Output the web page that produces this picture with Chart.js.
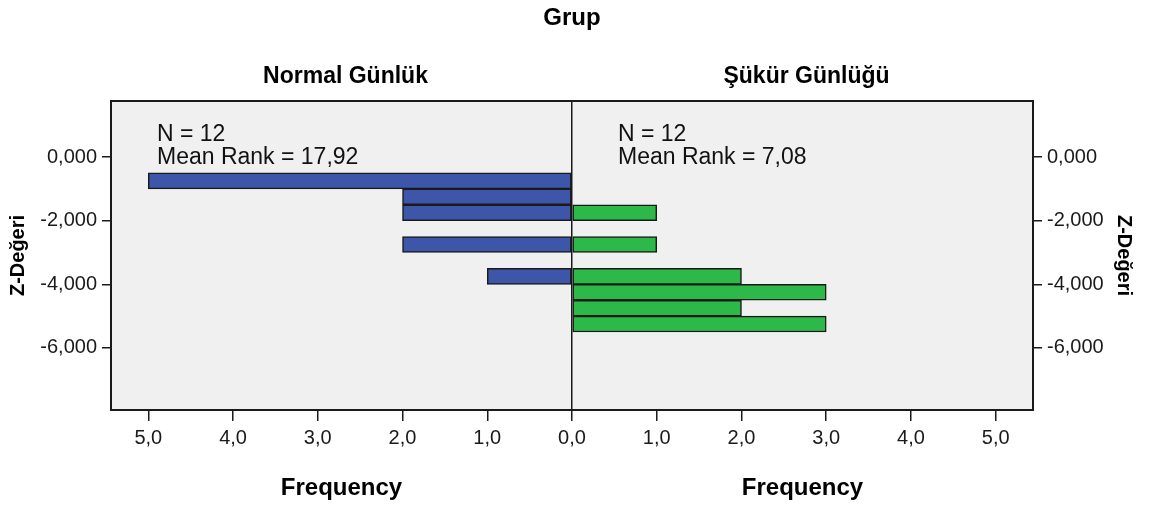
<!DOCTYPE html>
<html>
<head>
<meta charset="utf-8">
<script src="https://cdn.jsdelivr.net/npm/chart.js@4/dist/chart.umd.min.js"></script>
<style>
html,body{margin:0;padding:0;background:#fff;}
#wrap{width:1152px;height:506px;position:relative;}
</style>
</head>
<body>
<div id="wrap"><canvas id="c" width="1152" height="506"></canvas></div>
<script>
// ---- data ----
const binCenters   = [-0.75, -1.25, -1.75, -2.25, -2.75, -3.25, -3.75, -4.25, -4.75, -5.25];
const normalCounts = [5, 2, 2, 0, 2, 0, 1, 0, 0, 0];
const sukurCounts  = [0, 0, 1, 0, 1, 0, 2, 3, 2, 3];
const freqTicks    = [-5, -4, -3, -2, -1, 0, 1, 2, 3, 4, 5];
const zTicks       = [0, -2, -4, -6];
const groupNames   = ['Normal Günlük', 'Şükür Günlüğü'];
const groupStats   = [['N = 12', 'Mean Rank = 17,92'], ['N = 12', 'Mean Rank = 7,08']];
const chartTitle   = 'Grup';
const xTitle       = 'Frequency';
const yTitle       = 'Z-Değeri';

const FONT = '"Liberation Sans", Arial, sans-serif';
const INK = '#1a1a1a';

function toPoints(counts, sign) {
  return binCenters.map((y, i) => ({ x: sign * counts[i], y: y })).filter(p => p.x !== 0);
}

const framePlugin = {
  id: 'frame',
  beforeDraw(chart) {
    const a = chart.chartArea, ctx = chart.ctx;
    ctx.save();
    ctx.fillStyle = '#f0f0f0';
    ctx.fillRect(a.left, a.top, a.right - a.left, a.bottom - a.top);
    ctx.restore();
  },
  afterDraw(chart) {
    const a = chart.chartArea, ctx = chart.ctx;
    ctx.save();
    ctx.strokeStyle = INK;
    ctx.lineWidth = 2;
    ctx.strokeRect(a.left, a.top, a.right - a.left, a.bottom - a.top);
    const xs = chart.scales.x;
    const zeroX = xs.getPixelForValue(0);
    const centers = [(a.left + zeroX) / 2, (zeroX + a.right) / 2];
    const lefts = [a.left, zeroX];
    ctx.fillStyle = '#000';
    ctx.textAlign = 'center';
    ctx.textBaseline = 'middle';
    ctx.font = 'bold 24px ' + FONT;
    ctx.fillText(chartTitle, (a.left + a.right) / 2, 18);
    ctx.font = 'bold 23px ' + FONT;
    groupNames.forEach((g, i) => ctx.fillText(g, centers[i] + 4, 77));
    ctx.font = 'bold 24px ' + FONT;
    centers.forEach(c => ctx.fillText(xTitle, c, 488));
    ctx.textAlign = 'left';
    ctx.textBaseline = 'alphabetic';
    ctx.fillStyle = '#111';
    ctx.font = '23px ' + FONT;
    groupStats.forEach((lines, i) => {
      lines.forEach((t, j) => ctx.fillText(t, lefts[i] + 46, a.top + 40 + j * 23));
    });
    ctx.restore();
  }
};

const yTickCb = v => v.toFixed(3).replace('.', ',').replace('-0,000', '0,000');

function yAxis(pos, width, titlePad) {
  return {
    type: 'linear',
    position: pos,
    min: -7.95,
    max: 1.76,
    offset: false,
    afterBuildTicks: s => { s.ticks = zTicks.map(v => ({ value: v })); },
    afterFit: s => { s.width = width; },
    ticks: { callback: yTickCb, color: INK, font: { family: FONT, size: 20 }, padding: 5 },
    grid: { drawOnChartArea: false, offset: false, tickLength: 9, tickColor: INK, lineWidth: 1.5 },
    border: { display: true, color: INK, width: 2 },
    title: { display: true, text: yTitle, color: '#000', font: { family: FONT, size: 20, weight: 'bold' }, padding: { top: titlePad, bottom: 0 } }
  };
}

new Chart(document.getElementById('c'), {
  type: 'bar',
  data: {
    datasets: [
      {
        label: groupNames[0],
        data: toPoints(normalCounts, -1),
        backgroundColor: '#3d56aa',
        borderColor: INK,
        borderWidth: 1.5,
        borderSkipped: false,
        grouped: false,
        barPercentage: 1,
        categoryPercentage: 1,
        xAxisID: 'x', yAxisID: 'y'
      },
      {
        label: groupNames[1],
        data: toPoints(sukurCounts, 1),
        backgroundColor: '#2db84a',
        borderColor: INK,
        borderWidth: 1.5,
        borderSkipped: false,
        grouped: false,
        barPercentage: 1,
        categoryPercentage: 1,
        xAxisID: 'x', yAxisID: 'y'
      }
    ]
  },
  options: {
    indexAxis: 'y',
    responsive: false,
    animation: false,
    devicePixelRatio: 1,
    layout: { padding: { top: 101, left: 0, right: 0, bottom: 0 } },
    plugins: { legend: { display: false }, tooltip: { enabled: false }, title: { display: false } },
    scales: {
      x: {
        type: 'linear',
        position: 'bottom',
        min: -5.44,
        max: 5.44,
        offset: false,
        afterBuildTicks: s => { s.ticks = freqTicks.map(v => ({ value: v })); },
        afterFit: s => { s.height = 96; },
        ticks: {
          callback: v => Math.abs(v).toFixed(1).replace('.', ','),
          color: INK, font: { family: FONT, size: 20 }, padding: 5, maxRotation: 0, autoSkip: false
        },
        grid: {
          drawOnChartArea: true,
          offset: false,
          color: c => (c.tick && c.tick.value === 0) ? INK : 'rgba(0,0,0,0)',
          lineWidth: 1.5,
          tickColor: INK,
          tickLength: 11
        },
        border: { display: true, color: INK, width: 2 }
      },
      y: yAxis('left', 111, 6),
      y2: yAxis('right', 119, 16)
    }
  },
  plugins: [framePlugin]
});
</script>
</body>
</html>
